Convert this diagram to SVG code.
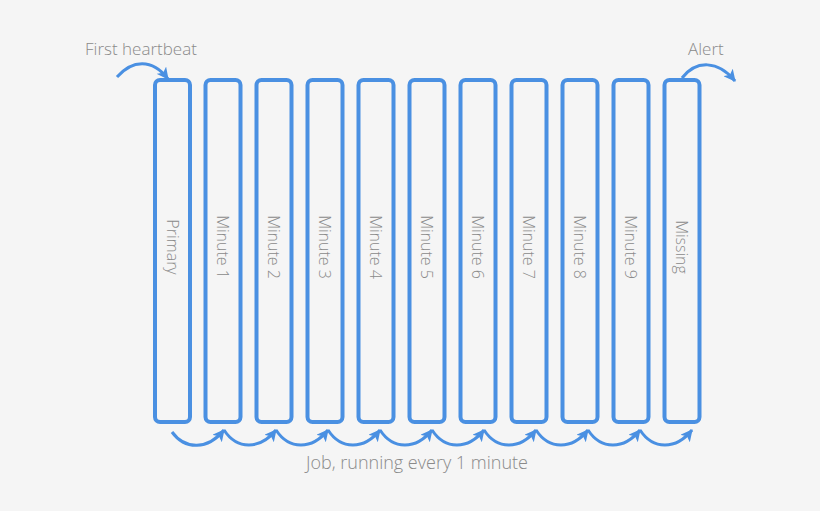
<svg xmlns="http://www.w3.org/2000/svg" width="820" height="511" viewBox="0 0 820 511">
<defs>
<style>
.box{fill:none;stroke:#4a90e2;stroke-width:4}
.lbl{font-family:"Open Sans","Liberation Sans",sans-serif;font-weight:300;font-size:17px;fill:#8a8a8a}
.blbl{font-family:"Open Sans","Liberation Sans",sans-serif;font-weight:300;font-size:16px;fill:#8a8a8a;text-anchor:middle;dominant-baseline:central}
.arr{fill:none;stroke:#4a90e2;stroke-width:3;marker-end:url(#ah)}
</style>
<marker id="ah" markerUnits="userSpaceOnUse" markerWidth="14" markerHeight="12" refX="11" refY="6" orient="auto">
<path d="M0,0 L12,6 L0,12 L3,6 Z" fill="#4a90e2"/>
</marker>
</defs>
<rect width="820" height="511" fill="#f5f5f5"/>
<g id="labels">
<text class="lbl" x="85" y="55">First heartbeat</text>
<text class="lbl" x="688" y="55">Alert</text>
<text class="lbl" x="306" y="469" style="font-size:18px">Job, running every 1 minute</text>
</g>
<g id="node-primary"><rect class="box" x="155" y="80" width="35" height="342" rx="5"/><text class="blbl" transform="translate(172.5,247) rotate(90)">Primary</text></g>
<g id="node-m1"><rect class="box" x="205.5" y="80" width="35" height="342" rx="5"/><text class="blbl" transform="translate(223,247) rotate(90)">Minute 1</text></g>
<g id="node-m2"><rect class="box" x="256.5" y="80" width="35" height="342" rx="5"/><text class="blbl" transform="translate(274,247) rotate(90)">Minute 2</text></g>
<g id="node-m3"><rect class="box" x="307.5" y="80" width="35" height="342" rx="5"/><text class="blbl" transform="translate(325,247) rotate(90)">Minute 3</text></g>
<g id="node-m4"><rect class="box" x="358.5" y="80" width="35" height="342" rx="5"/><text class="blbl" transform="translate(376,247) rotate(90)">Minute 4</text></g>
<g id="node-m5"><rect class="box" x="409.5" y="80" width="35" height="342" rx="5"/><text class="blbl" transform="translate(427,247) rotate(90)">Minute 5</text></g>
<g id="node-m6"><rect class="box" x="460.5" y="80" width="35" height="342" rx="5"/><text class="blbl" transform="translate(478,247) rotate(90)">Minute 6</text></g>
<g id="node-m7"><rect class="box" x="511.5" y="80" width="35" height="342" rx="5"/><text class="blbl" transform="translate(529,247) rotate(90)">Minute 7</text></g>
<g id="node-m8"><rect class="box" x="562.5" y="80" width="35" height="342" rx="5"/><text class="blbl" transform="translate(580,247) rotate(90)">Minute 8</text></g>
<g id="node-m9"><rect class="box" x="613.5" y="80" width="35" height="342" rx="5"/><text class="blbl" transform="translate(631,247) rotate(90)">Minute 9</text></g>
<g id="node-missing"><rect class="box" x="664.5" y="80" width="35" height="342" rx="5"/><text class="blbl" transform="translate(682,247) rotate(90)">Missing</text></g>
<g id="connectors">
<path class="arr" d="M117,77 C132,60 152,58 168,79"/>
<path class="arr" d="M682,78 C696,60 718,60 735,81"/>
<path class="arr" d="M172,432 C185,450 208,450 224,430"/>
<path class="arr" d="M224,430 C237,450 260,450 276,430"/>
<path class="arr" d="M276,430 C289,450 312,450 328,430"/>
<path class="arr" d="M328,430 C341,450 364,450 380,430"/>
<path class="arr" d="M380,430 C393,450 416,450 432,430"/>
<path class="arr" d="M432,430 C445,450 468,450 484,430"/>
<path class="arr" d="M484,430 C497,450 520,450 536,430"/>
<path class="arr" d="M536,430 C549,450 572,450 588,430"/>
<path class="arr" d="M588,430 C601,450 624,450 640,430"/>
<path class="arr" d="M640,430 C653,450 676,450 692,430"/>
</g>
</svg>
